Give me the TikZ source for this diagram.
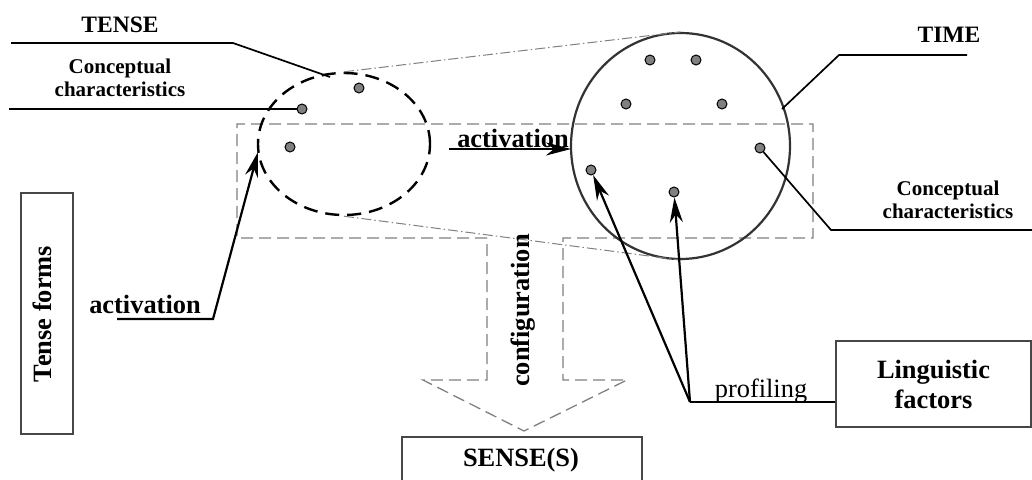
\documentclass[tikz,border=0pt]{standalone}
\usepackage{fontspec}
\setmainfont{Liberation Serif}
\usetikzlibrary{shapes.geometric,arrows.meta}
\begin{document}
\begin{tikzpicture}[x=1pt,y=-1pt,
  lead/.style={draw=black, line width=1.7pt},
  arr/.style={draw=black, line width=2.2pt, -{Stealth[length=25pt,width=13pt,inset=8pt]}},
  dot/.style={circle, draw=black, line width=1pt, fill=gray, minimum size=10pt, inner sep=0pt},
  gdash/.style={draw=gray, line width=1.3pt, dash pattern=on 12pt off 6pt},
  zoomline/.style={draw=gray, line width=1pt, dash pattern=on 10pt off 3pt on 1.5pt off 3pt},
  boxstyle/.style={draw=black!72, line width=1.6pt, inner sep=0pt},
  big/.style={font=\fontsize{26.4}{30}\selectfont\bfseries, inner sep=0pt},
  mid/.style={font=\fontsize{23.5}{26}\selectfont\bfseries, inner sep=0pt},
  small/.style={font=\fontsize{21}{23}\selectfont\bfseries, inner sep=0pt, align=center},
  plain/.style={font=\fontsize{26.4}{30}\selectfont, inner sep=0pt}
]
\useasboundingbox (0,0) rectangle (1032,479);
\clip (0,0) rectangle (1032,479);

% grey dashed frame with the configuration arrow
\draw[gdash] (487,238) -- (237,238) -- (237,124) -- (813,124) -- (813,238) -- (563,238)
  -- (563,380) -- (627,380) -- (524,431) -- (423,380) -- (487,380) -- cycle;

% TENSE ellipse and TIME circle
\node[draw=black, ellipse, line width=2.4pt, dash pattern=on 14pt off 8pt,
      minimum width=172pt, minimum height=142pt, inner sep=0pt] (tense) at (344,144) {};
\node[draw=black!80, ellipse, line width=2.2pt,
      minimum width=219pt, minimum height=226pt, inner sep=0pt] (time) at (680.5,146) {};

\draw[zoomline] (tense.north) -- (time.north);
\draw[zoomline] (tense.south) -- (time.south);

% dots
\node[dot] (a1) at (359,88) {};
\node[dot] (a2) at (302,109) {};
\node[dot] (a3) at (290,147) {};
\node[dot] (b1) at (650,60) {};
\node[dot] (b2) at (696,60) {};
\node[dot] (b3) at (626,104) {};
\node[dot] (b4) at (722,104) {};
\node[dot] (b5) at (591,170) {};
\node[dot] (b6) at (674,192) {};
\node[dot] (b7) at (760,148) {};

% TENSE label
\node[mid, anchor=base] (tenselbl) at (120,32) {TENSE};
\coordinate (t0) at (11,43);
\coordinate (t1) at (233,43);
\coordinate (t2) at (330,77);
\draw[lead] (t0) -- (t1) -- (t2);

% left conceptual characteristics
\node[small] (lcc) at (120,78) {Conceptual\\characteristics};
\coordinate (c0) at (9,109);
\draw[lead] (c0) -- (a2);

% TIME label
\node[mid, anchor=base] (timelbl) at (949,42) {TIME};
\coordinate (m0) at (967,55);
\coordinate (m1) at (839,55);
\coordinate (m2) at (782,109);
\draw[lead] (m0) -- (m1) -- (m2);

% right conceptual characteristics
\node[small] (rcc) at (948,200) {Conceptual\\characteristics};
\coordinate (r1) at (831,230);
\coordinate (r2) at (1032,230);
\draw[lead] (b7) -- (r1) -- (r2);

% middle activation
\node[big, anchor=base] (actm) at (513,147) {activation};
\coordinate (am0) at (449,149);
\coordinate (am1) at (571,149);
\draw[arr] (am0) -- (am1);

% left activation
\node[big, anchor=base] (actl) at (145,313) {activation};
\coordinate (al0) at (117,319);
\coordinate (al1) at (213,319);
\coordinate (al2) at (258,152);
\draw[arr] (al0) -- (al1) -- (al2);

% Tense forms
\node[boxstyle, minimum width=52pt, minimum height=241pt] (tfbox) at (47,313.5) {};
\node[big, rotate=90] (tf) at (42,314) {Tense forms};

% configuration
\node[big, rotate=90] (conf) at (523,310.5) {configuration};

% SENSE(S)
\node[boxstyle, anchor=north west, minimum width=240pt, minimum height=70pt] (sensebox) at (401,436) {};
\node[big, anchor=base] (sense) at (521,466) {SENSE(S)};

% Linguistic factors
\node[boxstyle, big, align=center, minimum width=195pt, minimum height=86pt] (ling) at (933.5,384) {Linguistic\\factors};
\coordinate (p0) at (690,402);
\draw[lead] (p0) -- (p0 -| ling.west);
\draw[arr] (p0) -- (b5);
\draw[arr] (p0) -- (b6);
\node[plain, anchor=base] (prof) at (761,397) {profiling};
\end{tikzpicture}
\end{document}
